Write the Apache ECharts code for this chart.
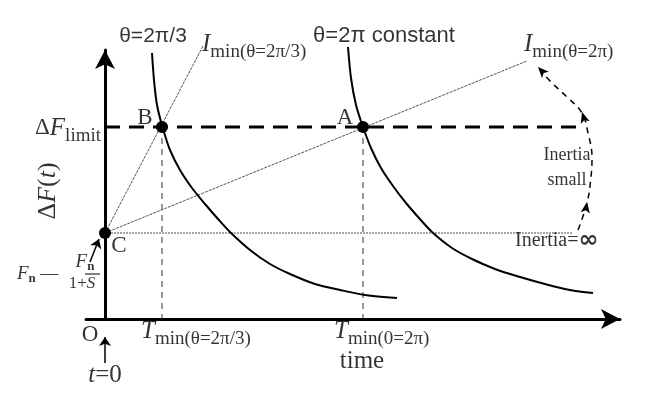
<!DOCTYPE html>
<html>
<head>
<meta charset="utf-8">
<script src="https://cdn.jsdelivr.net/npm/echarts@6/dist/echarts.min.js"></script>
<style>html,body{margin:0;padding:0;background:#fff}#c{width:650px;height:405px}</style>
</head>
<body>
<div id="c"></div>
<script>
// ---- values (arbitrary schematic units) ----
const dFlimit = 192;                 // ΔF_limit level
const dF0 = 86;                      // F_n - F_n/(1+S) at t = 0
const tB = 57;                       // T_min(θ=2π/3)
const tA = 258;                      // T_min(θ=2π)
const curveTheta2pi3 = [[47,266],[49,239],[52,214],[57.5,192],[65,169],[75,149],[87,131],[100,115],[113,100],[125,87],[145,69],[165,55],[185,45],[210,35],[235,29],[260,24],[292,21]];
const curveTheta2pi  = [[243,272],[246,241],[251,214],[258,192],[266,171],[276,151],[288,133],[301,116],[314,101],[327,87],[347,71],[367,60],[390,50],[415,42],[440,35],[465,29],[488,26]];
const lineImin2pi3 = [[0,86],[98,273]];
const lineImin2pi  = [[0,86],[422,258]];
const limitLine = [[0,192],[473,192]];
const inertiaInfLine = [[0,86],[468,86]];
const inertiaArc = [[473,89],[482,116],[486,142],[487,162],[483,186],[477,206],[462,222],[447,236],[435,249]];
const arcArrows = [[433,252,43],[477,207,17],[482,117,-9]];
const keyPoints = [[57,192],[258,192],[0,86]];

// ---- layout ----
const xMin = -19, xMax = 515, yMin = 0, yMax = 269;
const serif = 'Liberation Serif', sans = 'Liberation Sans';

const sub = {fontFamily: serif, fontSize: 19, color: '#000', padding: [16,0,0,0]};
const itl = {fontFamily: serif, fontStyle: 'italic', fontSize: 25, color: '#000'};
const rom = {fontFamily: serif, fontSize: 23, color: '#000'};
const big = {fontFamily: serif, fontSize: 25, color: '#000'};
const fI = {fontFamily: serif, fontStyle:'italic', fontSize: 19, color:'#000'};
const fn = {fontFamily: serif, fontWeight:'bold', fontSize: 13, color:'#000', padding:[9,0,0,0]};

function lab(pos, text, rich, extra) {
  const base = {show: true, formatter: text, rich: rich, color: '#000'};
  if (!extra || !extra.position) { base.position = 'inside'; base.align = 'center'; base.verticalAlign = 'middle'; }
  return {value: pos, label: Object.assign(base, extra || {})};
}

const labels = [
  lab([48,283], '{a|θ=2π/3}', {a:{fontFamily: sans, fontSize: 21, color:'#000'}}),
  lab([279,283], '{a|θ=2π constant}', {a:{fontFamily: sans, fontSize: 22, color:'#000'}}),
  lab([97,275], '{I|I}{s|min(θ=2π/3)}', {I: itl, s: sub}, {position: 'right', distance: 0}),
  lab([419,275], '{I|I}{s|min(θ=2π)}', {I: itl, s: sub}, {position: 'right', distance: 0}),
  lab([40,201], '{r|B}', {r: rom}),
  lab([240,201], '{r|A}', {r: rom}),
  lab([14,73], '{r|C}', {r: rom}),
  lab([-4,191], '{r|Δ}{I|F}{s|limit}', {r: rom, I: itl, s: {fontFamily: serif, fontSize: 19, color:'#000', padding:[16,0,0,0]}}, {position: 'left', distance: 0}),
  lab([-57,128], '{r|Δ}{I|F}{r|(}{I|t}{r|)}', {r: {fontFamily: serif, fontSize: 26, color:'#000'}, I: {fontFamily: serif, fontStyle:'italic', fontSize: 26, color:'#000'}}, {rotate: 90}),
  lab([-88,45], '{I|F}{n|n}{r| —}', {I: fI, n: fn, r:{fontFamily: serif, fontSize: 18, color:'#000'}}, {position: 'right', distance: 0}),
  lab([-20,57], '{I|F}{n|n}', {I: fI, n: fn}),
  lab([-23,35], '{r|1+}{I|S}', {r:{fontFamily: serif, fontSize: 17, color:'#000'}, I:{fontFamily: serif, fontStyle:'italic', fontSize: 17, color:'#000'}}),
  lab([-15,-16], '{r|O}', {r: rom}),
  lab([0,-56], '{I|t}{r|=0}', {I: itl, r: big}),
  lab([36,-12], '{I|T}{s|min(θ=2π/3)}', {I: itl, s: sub}, {position: 'right', distance: 0}),
  lab([229,-12], '{I|T}{s|min(0=2π)}', {I: itl, s: sub}, {position: 'right', distance: 0}),
  lab([257,-42], '{r|time}', {r: {fontFamily: serif, fontSize: 25, color:'#000'}}),
  lab([462,151], '{r|Inertia}\n{r|small}', {r: {fontFamily: serif, fontSize: 18, color:'#000', lineHeight: 25}}),
  lab([410,78], '{r|Inertia=}{b|∞}', {r: {fontFamily: serif, fontSize: 20, color:'#000'}, b: {fontFamily: 'DejaVu Sans', fontWeight:'bold', fontSize: 24, color:'#000'}}, {position: 'right', distance: 0})
];

function seg(data, style, extra) {
  return Object.assign({type: 'line', data: data, showSymbol: false, symbol: 'none', silent: true, clip: false, lineStyle: style, z: 2}, extra || {});
}

const chart = echarts.init(document.getElementById('c'), null, {renderer: 'canvas'});
chart.setOption({
  animation: false,
  backgroundColor: '#fff',
  grid: {left: 86, right: 30, top: 50, bottom: 86},
  xAxis: {type: 'value', min: xMin, max: xMax,
    axisLine: {onZero: true, symbol: ['none','arrow'], symbolSize: [15, 19], lineStyle: {color: '#000', width: 3}},
    axisTick: {show: false}, axisLabel: {show: false}, splitLine: {show: false}},
  yAxis: {type: 'value', min: yMin, max: yMax,
    axisLine: {onZero: true, symbol: ['none','arrow'], symbolSize: [15, 19], lineStyle: {color: '#000', width: 3}},
    axisTick: {show: false}, axisLabel: {show: false}, splitLine: {show: false}},
  series: [
    seg(limitLine, {color: '#000', width: 3, type: [15, 9]}),
    seg(inertiaInfLine, {color: '#888', width: 1.5, type: [2, 1]}),
    seg(lineImin2pi3, {color: '#555', width: 1, type: [3, 1]}),
    seg(lineImin2pi, {color: '#555', width: 1, type: [3, 1]}),
    seg([[tB, dFlimit],[tB, 0]], {color: '#333', width: 1, type: [6, 5]}),
    seg([[tA, dFlimit],[tA, 0]], {color: '#333', width: 1, type: [6, 5]}),
    seg(curveTheta2pi3, {color: '#000', width: 2}, {smooth: 0.3}),
    seg(curveTheta2pi, {color: '#000', width: 2}, {smooth: 0.3}),
    seg(inertiaArc, {color: '#000', width: 1.5, type: [6, 5]}, {smooth: 0.4}),
    seg([[-39,45],[-5,45]], {color: '#000', width: 1}),
    {type: 'lines', coordinateSystem: 'cartesian2d', clip: false, silent: true,
      symbol: ['none','arrow'], symbolSize: 9,
      lineStyle: {color: '#000', width: 1.5, opacity: 1},
      data: [{coords: [[0,-44],[0,-18]]}, {coords: [[-15,57],[-6,80]]}]},
    {type: 'scatter', clip: false, silent: true, symbol: 'arrow', symbolSize: [7, 11], itemStyle: {color: '#000', opacity: 1},
      data: arcArrows.map(a => ({value: [a[0], a[1]], symbolRotate: a[2]})), z: 3},
    {type: 'scatter', clip: false, silent: true, symbolSize: 12, itemStyle: {color: '#000', opacity: 1},
      data: keyPoints, z: 4},
    {type: 'scatter', clip: false, silent: true, symbolSize: 0, data: labels, z: 5}
  ]
});
</script>
</body>
</html>
